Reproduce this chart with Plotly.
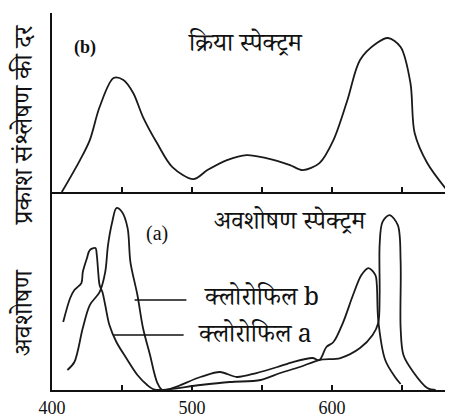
import plotly.graph_objects as go
from plotly.subplots import make_subplots

# Action spectrum (rate of photosynthesis), wavelength nm -> relative value
action_nm = [407, 420, 427, 434, 444, 451, 458, 465, 475, 486, 501, 511, 525, 539, 553,
             570, 579, 591, 601, 611, 620, 632, 640, 649, 656, 659, 668, 682]
action_val = [0, 32, 52, 85, 114, 112, 99, 75, 49, 25, 13, 22, 32, 37, 34,
              27, 22, 29, 52, 92, 132, 149, 154, 145, 109, 59, 29, 2]

# Chlorophyll a absorption
chl_a_nm = [408, 413, 416, 421, 422, 425, 427, 431, 432, 433, 434, 436, 438, 441, 446,
            453, 461, 468, 472, 477, 506, 527, 549, 563, 577, 591, 606, 620, 629, 633,
            634, 634, 636, 641, 647, 649, 649, 651, 658, 668, 674]
chl_a_val = [68, 92, 100, 107, 118, 132, 140, 142, 135, 118, 105, 98, 85, 65, 48,
             32, 15, 5, 1, 0, 5, 8, 10, 17, 23, 30, 32, 42, 55, 67,
             95, 145, 168, 175, 165, 128, 62, 35, 18, 2, 0]

# Chlorophyll b absorption
chl_b_nm = [411, 416, 422, 427, 434, 438, 440, 443, 446, 450, 454, 456, 461, 465, 470,
            475, 479, 506, 520, 532, 546, 561, 572, 586, 591, 596, 601, 608, 615, 621,
            626, 631, 632, 633, 638, 645, 649]
chl_b_val = [20, 28, 62, 85, 98, 118, 145, 168, 182, 178, 162, 128, 95, 62, 35,
             8, 0, 13, 18, 13, 17, 23, 28, 32, 30, 43, 48, 68, 95, 115,
             122, 115, 105, 70, 30, 13, 6]

x_tick_vals = [400, 450, 500, 550, 600, 650]
x_tick_text = ["400", "", "500", "", "600", ""]

dev_font = "Noto Serif Devanagari, Noto Sans Devanagari, Lohit Devanagari, FreeSerif, Liberation Serif, serif"

fig = make_subplots(rows=2, cols=1, shared_xaxes=False, vertical_spacing=0.0,
                    row_heights=[0.475, 0.525])

line_style = dict(color="#1a1a1a", width=1.8, shape="spline", smoothing=0.9)
fig.add_trace(go.Scatter(x=action_nm, y=action_val, mode="lines", line=line_style,
                         showlegend=False), row=1, col=1)
fig.add_trace(go.Scatter(x=chl_a_nm, y=chl_a_val, mode="lines", line=line_style,
                         showlegend=False), row=2, col=1)
fig.add_trace(go.Scatter(x=chl_b_nm, y=chl_b_val, mode="lines", line=line_style,
                         showlegend=False), row=2, col=1)

xaxis_common = dict(range=[400, 686.4], showgrid=False, zeroline=False, showline=True,
                    linecolor="#111", linewidth=2, ticks="inside", ticklen=5,
                    tickcolor="#111", tickwidth=1.5, tickvals=x_tick_vals)
fig.update_xaxes(**xaxis_common, showticklabels=False, row=1, col=1)
fig.update_xaxes(**xaxis_common, ticktext=x_tick_text,
                 tickfont=dict(family="Liberation Serif", size=18, color="#111"),
                 row=2, col=1)
yaxis_common = dict(showgrid=False, zeroline=False, showline=True, linecolor="#111",
                    linewidth=2, ticks="", showticklabels=False)
fig.update_yaxes(**yaxis_common, range=[0, 179], row=1, col=1)
fig.update_yaxes(**yaxis_common, range=[0, 198], row=2, col=1)

ann = []
ann.append(dict(text="<b>(b)</b>", x=423.6, y=145, xref="x", yref="y", showarrow=False,
                font=dict(family="Liberation Serif", size=18, color="#111")))
ann.append(dict(text="क्रिया स्पेक्ट्रम", x=538, y=145, xref="x", yref="y", showarrow=False,
                font=dict(family=dev_font, size=25, color="#111")))
ann.append(dict(text="(a)", x=475, y=157, xref="x2", yref="y2", showarrow=False,
                font=dict(family="Liberation Serif", size=20, color="#111")))
ann.append(dict(text="अवशोषण स्पेक्ट्रम", x=570, y=165, xref="x2", yref="y2", showarrow=False,
                font=dict(family=dev_font, size=25, color="#111")))
ann.append(dict(text="क्लोरोफिल b", x=507, y=89, xref="x2", yref="y2", showarrow=False,
                xanchor="left", font=dict(family=dev_font, size=25, color="#111")))
ann.append(dict(text="क्लोरोफिल a", x=503, y=52, xref="x2", yref="y2", showarrow=False,
                xanchor="left", font=dict(family=dev_font, size=25, color="#111")))
ann.append(dict(text="प्रकाश संश्लेषण की दर", x=0, xshift=-24, y=0.703, xref="paper",
                yref="paper", showarrow=False, textangle=-90, xanchor="center",
                yanchor="middle", font=dict(family=dev_font, size=26, color="#111")))
ann.append(dict(text="अवशोषण", x=0, xshift=-24, y=0.207, xref="paper",
                yref="paper", showarrow=False, textangle=-90, xanchor="center",
                yanchor="middle", font=dict(family=dev_font, size=26, color="#111")))
fig.update_layout(annotations=ann)

fig.add_shape(type="line", x0=459, x1=496, y0=90, y1=90, xref="x2", yref="y2",
              line=dict(color="#111", width=1.6))
fig.add_shape(type="line", x0=444, x1=494, y0=55, y1=55, xref="x2", yref="y2",
              line=dict(color="#111", width=1.6))

# page body has an 8px default margin, so the figure is sized to end at the window edge
fig.update_layout(width=445, height=409, margin=dict(l=44, r=0, t=5, b=27),
                  paper_bgcolor="white", plot_bgcolor="white")

fig.write_html("out.html")
